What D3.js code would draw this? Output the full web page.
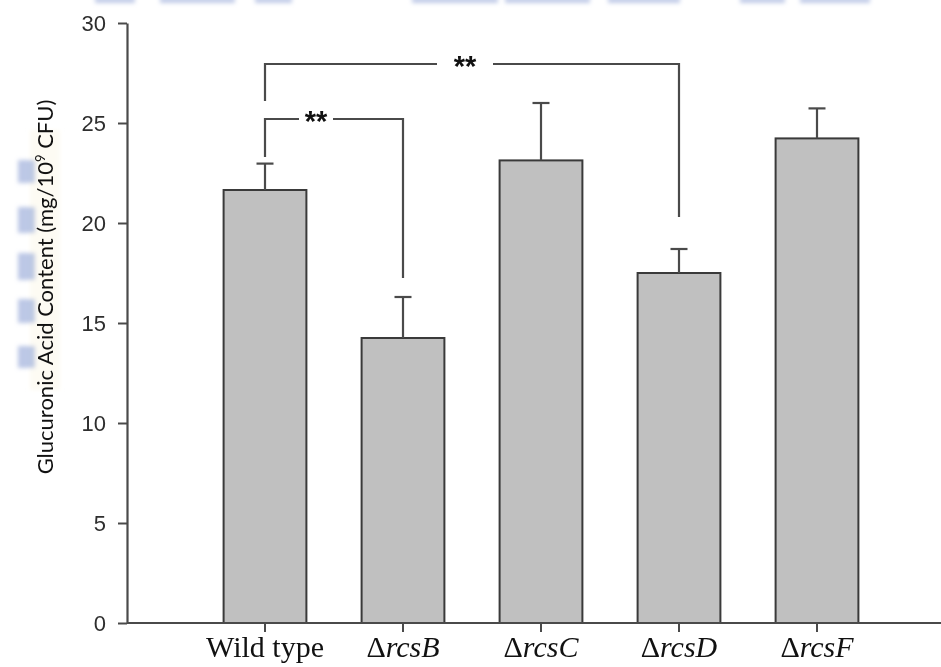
<!DOCTYPE html>
<html>
<head>
<meta charset="utf-8">
<script src="https://cdn.jsdelivr.net/npm/d3@7"></script>
<style>
  html, body { margin: 0; padding: 0; background: #fff; }
  svg { display: block; }
</style>
</head>
<body>
<svg id="chart" width="941" height="667"></svg>
<script>
// Strains and measured glucuronic acid content (mean ± SD)
const strains = ["Wild type", "rcsB", "rcsC", "rcsD", "rcsF"];
const means = [21.65, 14.25, 23.13, 17.5, 24.23];
const errors = [1.32, 2.05, 2.87, 1.2, 1.5];
const yTicks = [0, 5, 10, 15, 20, 25, 30];

// Significance brackets: [from strain, to strain, bar height, left foot, right foot, label]
const bracketFrom = ["Wild type", "Wild type"];
const bracketTo = ["rcsD", "rcsB"];
const bracketLevel = [27.95, 25.2];
const bracketLeftFoot = [26.1, 23.3];
const bracketRightFoot = [20.3, 17.25];
const bracketLabel = ["**", "**"];

const svg = d3.select("#chart");

// Faint bluish page artefacts along the top and left margin
const defs = svg.append("defs");
defs.append("filter").attr("id", "soft")
  .append("feGaussianBlur").attr("stdDeviation", 2);
const haze = svg.append("g").attr("filter", "url(#soft)");
const topStrips = [[95, 135], [160, 235], [255, 292], [412, 498], [505, 590], [608, 680], [740, 785], [800, 870]];
topStrips.forEach(([a, b]) => {
  haze.append("rect").attr("x", a).attr("y", -3).attr("width", b - a).attr("height", 6)
    .attr("fill", "#aebbe0").attr("opacity", 0.75);
});
haze.append("rect").attr("x", 30).attr("y", 130).attr("width", 30).attr("height", 260)
  .attr("fill", "#fcfaf0").attr("opacity", 0.8);
const sideBlocks = [[160, 183], [207, 233], [253, 280], [299, 323], [346, 368]];
sideBlocks.forEach(([a, b]) => {
  haze.append("rect").attr("x", 18).attr("y", a).attr("width", 17).attr("height", b - a)
    .attr("fill", "#9fb0dc").attr("opacity", 0.7);
});

const x0 = 127, y0 = 623;
const y = d3.scaleLinear().domain([0, 30]).range([623, 23]);
const x = d3.scaleBand().domain(strains).range([196, 886]).paddingInner(0.4).paddingOuter(0.2);
const cx = s => x(s) + x.bandwidth() / 2;

const ink = "#4a4a4a";

// Bars
svg.append("g").selectAll("rect").data(strains).join("rect")
  .attr("x", d => x(d))
  .attr("y", (d, i) => y(means[i]))
  .attr("width", x.bandwidth())
  .attr("height", (d, i) => y(0) - y(means[i]))
  .attr("fill", "#c0c0c0")
  .attr("stroke", "#3a3a3a")
  .attr("stroke-width", 2);

// Error bars (upper only)
const eb = svg.append("g").attr("stroke", ink).attr("stroke-width", 2.2);
strains.forEach((s, i) => {
  const c = cx(s);
  eb.append("line").attr("x1", c).attr("x2", c)
    .attr("y1", y(means[i])).attr("y2", y(means[i] + errors[i]));
  eb.append("line").attr("x1", c - 8.5).attr("x2", c + 8.5)
    .attr("y1", y(means[i] + errors[i])).attr("y2", y(means[i] + errors[i]));
});

// Y axis
const yAxis = svg.append("g").attr("transform", `translate(${x0},0)`)
  .call(d3.axisLeft(y).tickValues(yTicks).tickSize(9).tickPadding(12).tickSizeOuter(0));
yAxis.select(".domain").attr("stroke", ink).attr("stroke-width", 2.2);
yAxis.selectAll(".tick line").attr("stroke", ink).attr("stroke-width", 2);
yAxis.selectAll(".tick text")
  .attr("font-family", "Liberation Sans, Arial, sans-serif")
  .attr("font-size", 22).attr("fill", "#2e2e2e");

// X axis
const xAxis = svg.append("g").attr("transform", `translate(0,${y0})`)
  .call(d3.axisBottom(x).tickSize(9).tickSizeOuter(0).tickFormat(""));
xAxis.select(".domain").attr("d", `M${x0},0H941`).attr("stroke", ink).attr("stroke-width", 2.2);
xAxis.selectAll(".tick line").attr("stroke", ink).attr("stroke-width", 2);

// Category labels: strain mutants shown as Δ + italic gene name
const lab = svg.append("g")
  .attr("font-family", "Liberation Serif, Times New Roman, serif")
  .attr("font-size", 30).attr("fill", "#111");
strains.forEach((s, i) => {
  const t = lab.append("text").attr("x", cx(s)).attr("y", 657).attr("text-anchor", "middle");
  if (i === 0) {
    t.text(s);
  } else {
    t.append("tspan").text("Δ");
    t.append("tspan").attr("font-style", "italic").text(s);
  }
});

// Y axis title
const yt = svg.append("text")
  .attr("transform", "translate(53,287) rotate(-90)")
  .attr("text-anchor", "middle")
  .attr("font-family", "Lato, Open Sans, sans-serif")
  .attr("font-size", 22).attr("fill", "#111");
yt.append("tspan").text("Glucuronic Acid Content (mg/10");
yt.append("tspan").attr("font-size", 13).attr("dy", -8).text("9");
yt.append("tspan").attr("dy", 8).text(" CFU)");

// Significance brackets
const br = svg.append("g").attr("stroke", ink).attr("stroke-width", 2.2).attr("fill", "none");
bracketFrom.forEach((f, i) => {
  const xa = cx(f), xb = cx(bracketTo[i]);
  const yl = y(bracketLevel[i]);
  const mid = (xa + xb) / 2;
  const gap = i === 0 ? 28 : 17;
  const lx = i === 0 ? 465 : mid - 18;
  br.append("path").attr("d", `M${xa},${y(bracketLeftFoot[i])}V${yl}H${lx - gap}`);
  br.append("path").attr("d", `M${lx + gap},${yl}H${xb}V${y(bracketRightFoot[i])}`);
  svg.append("text").attr("x", lx).attr("y", yl + 12)
    .attr("text-anchor", "middle")
    .attr("font-family", "Liberation Sans, Arial, sans-serif")
    .attr("font-weight", "bold").attr("font-size", 29).attr("fill", "#111")
    .text(bracketLabel[i]);
});
</script>
</body>
</html>
